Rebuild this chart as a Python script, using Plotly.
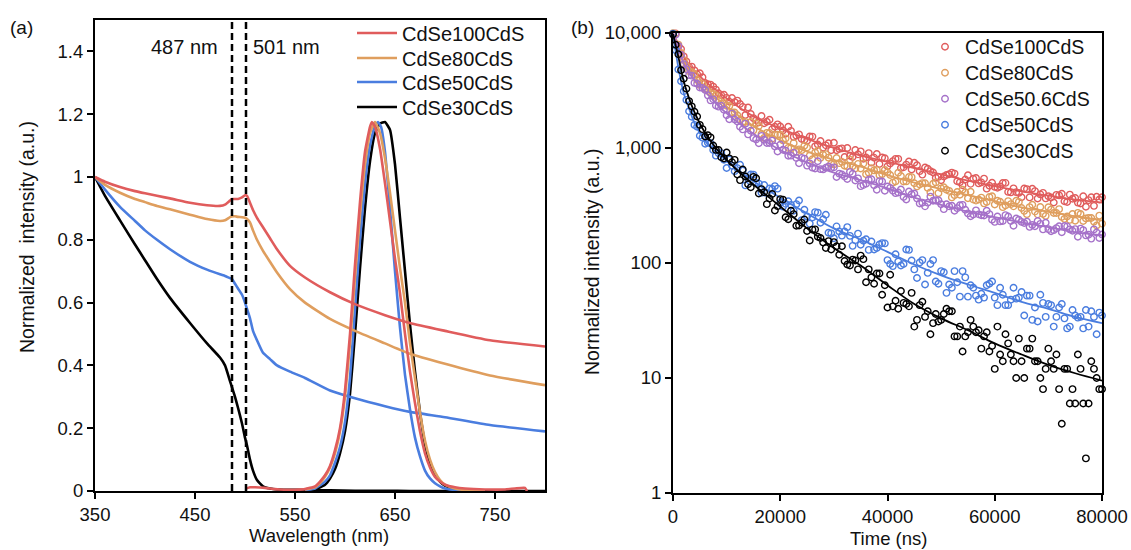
import plotly.graph_objects as go

# ---------------- Panel (a): absorption + PL ----------------
SAMPLES_A = ["CdSe100CdS", "CdSe80CdS", "CdSe50CdS", "CdSe30CdS"]

WL_ABS = [350, 360, 375, 390, 400, 412, 425, 445, 462, 475, 480, 485, 487, 490, 493,
          497, 500, 502, 505, 508, 512, 518, 525, 532, 545, 560, 585, 610, 640, 665,
          700, 745, 800]
ABS_RED = [1.0, 0.985, 0.968, 0.955, 0.948, 0.94, 0.932, 0.918, 0.91, 0.908, 0.912, 0.925,
           0.93, 0.93, 0.93, 0.935, 0.942, 0.94, 0.918, 0.895, 0.87, 0.84, 0.805, 0.77,
           0.717, 0.68, 0.633, 0.595, 0.56, 0.535, 0.51, 0.48, 0.46]
ABS_ORANGE = [1.0, 0.975, 0.95, 0.93, 0.92, 0.908, 0.897, 0.88, 0.866, 0.86, 0.862, 0.872,
              0.874, 0.875, 0.873, 0.872, 0.87, 0.866, 0.855, 0.83, 0.8, 0.765, 0.73, 0.696,
              0.643, 0.6, 0.548, 0.51, 0.47, 0.437, 0.405, 0.368, 0.337]
ABS_BLUE = [1.0, 0.96, 0.905, 0.86, 0.83, 0.80, 0.77, 0.73, 0.705, 0.69, 0.685, 0.678,
            0.675, 0.66, 0.645, 0.625, 0.6, 0.58, 0.55, 0.51, 0.48, 0.44, 0.42, 0.40,
            0.38, 0.36, 0.32, 0.295, 0.27, 0.252, 0.235, 0.21, 0.19]
ABS_BLACK = [1.0, 0.94, 0.862, 0.785, 0.735, 0.675, 0.615, 0.535, 0.47, 0.425, 0.40, 0.35,
             0.33, 0.30, 0.265, 0.215, 0.17, 0.145, 0.10, 0.065, 0.035, 0.015, 0.008, 0.005,
             0.004, 0.003, 0.002, 0.001, 0.001, 0.0, 0.0, 0.0, 0.0]

WL_PL_RED = [501, 505, 510, 520, 530, 540, 550, 560, 570, 575, 580, 585, 590, 595, 600,
             605, 610, 615, 620, 625, 627, 630, 635, 640, 645, 650, 655, 660, 665, 670,
             675, 680, 685, 690, 695, 700, 710, 720, 740, 760, 770, 780, 782]
PL_RED = [0.008, 0.012, 0.012, 0.01, 0.006, 0.004, 0.004, 0.006, 0.015, 0.03, 0.05, 0.08,
          0.13, 0.2, 0.32, 0.5, 0.72, 0.92, 1.08, 1.16, 1.175, 1.16, 1.09, 0.98, 0.86, 0.74,
          0.63, 0.5, 0.38, 0.28, 0.19, 0.12, 0.075, 0.045, 0.03, 0.02, 0.012, 0.008, 0.005,
          0.005, 0.008, 0.01, 0.0]
WL_PL_ORANGE = [560, 570, 575, 580, 585, 590, 595, 600, 605, 610, 615, 620, 625, 630, 635,
                640, 645, 650, 655, 660, 665, 670, 675, 680, 685, 690, 695, 700, 710, 720, 740]
PL_ORANGE = [0.005, 0.012, 0.025, 0.045, 0.075, 0.12, 0.19, 0.3, 0.47, 0.68, 0.88, 1.04,
             1.14, 1.175, 1.14, 1.06, 0.95, 0.83, 0.71, 0.6, 0.47, 0.36, 0.25, 0.16, 0.1,
             0.06, 0.035, 0.02, 0.008, 0.003, 0.001]
WL_PL_BLUE = [560, 570, 580, 585, 590, 595, 600, 605, 610, 615, 620, 625, 630, 633, 636,
              640, 645, 650, 655, 660, 665, 670, 675, 680, 685, 690, 695, 700, 710, 720]
PL_BLUE = [0.003, 0.008, 0.03, 0.05, 0.09, 0.14, 0.22, 0.36, 0.58, 0.8, 0.98, 1.1, 1.165,
           1.175, 1.16, 1.08, 0.9, 0.7, 0.52, 0.37, 0.26, 0.17, 0.11, 0.065, 0.04, 0.025,
           0.015, 0.008, 0.003, 0.0]
WL_PL_BLACK = [560, 570, 580, 585, 590, 595, 600, 605, 610, 615, 620, 625, 630, 635, 640,
               645, 650, 655, 660, 665, 670, 675, 680, 685, 690, 695, 700, 710, 720, 730]
PL_BLACK = [0.002, 0.005, 0.02, 0.04, 0.07, 0.12, 0.19, 0.31, 0.5, 0.71, 0.9, 1.05, 1.14,
            1.17, 1.175, 1.15, 1.04, 0.87, 0.7, 0.53, 0.38, 0.25, 0.15, 0.09, 0.055, 0.03,
            0.017, 0.006, 0.002, 0.0]

A_XTICKS = [350, 450, 550, 650, 750]
A_YTICKS = [0, 0.2, 0.4, 0.6, 0.8, 1.0, 1.2, 1.4]
A_YTICKTEXT = ["0", "0.2", "0.4", "0.6", "0.8", "1", "1.2", "1.4"]
MARKED_WL = [487, 501]

# ---------------- Panel (b): PL decay ----------------
SAMPLES_B = ["CdSe100CdS", "CdSe80CdS", "CdSe50.6CdS", "CdSe50CdS", "CdSe30CdS"]

TIME_NS = [0, 1000, 2000, 3000, 4000, 5000, 6000, 7000, 8000, 9000,
           10000, 11000, 12000, 13000, 14000, 15000, 16000, 17000, 18000, 19000,
           20000, 21000, 22000, 23000, 24000, 25000, 26000, 27000, 28000, 29000,
           30000, 31000, 32000, 33000, 34000, 35000, 36000, 37000, 38000, 39000,
           40000, 41000, 42000, 43000, 44000, 45000, 46000, 47000, 48000, 49000,
           50000, 51000, 52000, 53000, 54000, 55000, 56000, 57000, 58000, 59000,
           60000, 61000, 62000, 63000, 64000, 65000, 66000, 67000, 68000, 69000,
           70000, 71000, 72000, 73000, 74000, 75000, 76000, 77000, 78000, 79000,
           80000]
TIME_NS_HALF = [500, 1500, 2500, 3500, 4500, 5500, 6500, 7500, 8500, 9500,
                10500, 11500, 12500, 13500, 14500, 15500, 16500, 17500, 18500, 19500,
                20500, 21500, 22500, 23500, 24500, 25500, 26500, 27500, 28500, 29500,
                30500, 31500, 32500, 33500, 34500, 35500, 36500, 37500, 38500, 39500,
                40500, 41500, 42500, 43500, 44500, 45500, 46500, 47500, 48500, 49500,
                50500, 51500, 52500, 53500, 54500, 55500, 56500, 57500, 58500, 59500,
                60500, 61500, 62500, 63500, 64500, 65500, 66500, 67500, 68500, 69500,
                70500, 71500, 72500, 73500, 74500, 75500, 76500, 77500, 78500, 79500]

DEC_RED = [9810, 7650, 6260, 5070, 4730, 4470, 3680, 3560, 3220, 2880,
           2730, 2720, 2580, 2280, 2250, 1820, 1670, 1640, 1760, 1530,
           1540, 1330, 1410, 1280, 1200, 1155, 1256, 1073, 1008, 1100,
           1112, 982, 834, 855, 962, 935, 828, 746, 888, 827,
           694, 769, 804, 679, 764, 745, 629, 677, 629, 552,
           524, 583, 611, 514, 474, 579, 541, 492, 542, 470,
           459, 462, 497, 411, 413, 373, 439, 442, 364, 407,
           380, 336, 387, 344, 393, 368, 329, 308, 373, 377,
           373]
DEC_RED_HALF = [9900, 7250, 5650, 5100, 4380, 4120, 3580, 3420, 2990, 2900,
                2522, 2506, 2414, 1939, 1975, 1743, 1897, 1693, 1458, 1606,
                1421, 1529, 1250, 1313, 1176, 1260, 1033, 1150, 1055, 956,
                955, 993, 1000, 835, 881, 807, 903, 824, 725, 815,
                735, 805, 671, 717, 651, 707, 587, 660, 613, 561,
                566, 592, 599, 503, 532, 488, 548, 502, 443, 498,
                451, 496, 415, 446, 407, 445, 372, 422, 395, 365,
                371, 391, 400, 339, 362, 335, 380, 352, 314, 357]
DEC_ORANGE = [9950, 7930, 5810, 4650, 4380, 3540, 3290, 3010, 2870, 2430,
              2330, 2040, 1926, 1688, 1533, 1424, 1551, 1225, 1349, 1307,
              1302, 1213, 998, 926, 958, 1011, 799, 946, 872, 825,
              721, 739, 701, 792, 665, 664, 591, 668, 645, 593,
              616, 500, 609, 511, 560, 494, 481, 493, 411, 502,
              446, 434, 372, 414, 434, 366, 356, 357, 330, 375,
              323, 341, 317, 325, 348, 301, 266, 321, 265, 267,
              305, 272, 294, 242, 237, 233, 267, 244, 246, 212,
              220]
DEC_ORANGE_HALF = [9800, 6700, 5150, 4560, 3900, 3610, 3130, 2950, 2580, 2460,
                   2320, 2035, 1763, 1688, 1685, 1631, 1321, 1353, 1202, 1308,
                   1165, 1003, 1102, 972, 1045, 860, 912, 821, 885, 730,
                   818, 758, 694, 696, 727, 732, 609, 639, 580, 643,
                   582, 511, 571, 513, 558, 463, 495, 450, 489, 405,
                   456, 424, 389, 392, 410, 416, 349, 370, 339, 380,
                   348, 306, 345, 311, 340, 284, 306, 280, 307, 257,
                   291, 272, 251, 254, 267, 273, 232, 247, 229, 258]
DEC_PURPLE = [9690, 7725, 5366, 4302, 3682, 3362, 3196, 2596, 2342, 2334,
              1925, 1990, 1701, 1453, 1314, 1218, 1100, 1180, 1104, 1033,
              1068, 949, 859, 820, 820, 703, 675, 768, 652, 691,
              679, 599, 567, 620, 521, 466, 490, 535, 434, 512,
              462, 425, 410, 375, 419, 402, 329, 311, 378, 351,
              324, 324, 315, 300, 320, 270, 264, 265, 259, 266,
              228, 230, 261, 232, 244, 228, 229, 214, 232, 196,
              197, 193, 209, 210, 196, 197, 199, 174, 163, 184,
              177]
DEC_PURPLE_HALF = [9650, 6450, 4850, 4260, 3620, 3330, 2870, 2650, 2290, 2150,
                   1779, 1771, 1533, 1628, 1414, 1184, 1274, 1104, 1159, 931,
                   965, 856, 910, 737, 809, 735, 663, 655, 673, 672,
                   559, 589, 537, 598, 544, 476, 530, 474, 515, 425,
                   450, 405, 435, 357, 396, 365, 334, 335, 348, 351,
                   294, 311, 285, 318, 290, 255, 287, 260, 285, 238,
                   254, 232, 254, 211, 238, 223, 206, 209, 219, 224,
                   189, 201, 185, 208, 191, 169, 193, 176, 196, 165]
DEC_BLUE = [9870, 4810, 3110, 2085, 1588, 1278, 1090, 1100, 858, 902,
            671, 701, 668, 636, 544, 587, 490, 477, 445, 466,
            333, 327, 320, 325, 236, 254, 249, 274, 240, 183,
            164, 188, 188, 172, 158, 144, 161, 154, 135, 149,
            106, 94, 103, 98, 130, 88, 101, 65, 98, 69,
            85, 55, 61, 68, 85, 51, 61, 48, 50, 66,
            50, 61, 43, 48, 49, 56, 52, 32, 31, 45,
            44, 28, 41, 33, 28, 35, 34, 39, 38, 24,
            35]
DEC_BLUE_HALF = [7100, 3800, 2620, 1870, 1530, 1230, 1110, 960, 900, 790,
                 792, 629, 715, 473, 589, 497, 409, 405, 440, 443,
                 309, 344, 285, 350, 290, 220, 277, 224, 263, 181,
                 208, 173, 205, 141, 180, 156, 130, 131, 145, 148,
                 98, 119, 95, 131, 105, 74, 106, 82, 106, 66,
                 83, 65, 85, 51, 75, 64, 52, 54, 64, 69,
                 43, 53, 43, 61, 50, 35, 52, 41, 53, 34,
                 43, 34, 44, 27, 39, 33.5, 27, 28, 34, 37]
DEC_BLACK = [9730, 6525, 4000, 2558, 2065, 1588, 1259, 1238, 963, 830,
             914, 753, 589, 651, 484, 561, 402, 412, 364, 286,
             359, 250, 285, 211, 224, 190, 195, 169, 151, 155,
             152, 118, 104, 95, 105, 116, 68, 75, 81, 53,
             41, 42, 40, 45, 42, 28, 43, 34, 24, 36,
             32, 40, 38, 23, 17, 25, 28, 26, 23, 17,
             12, 16, 24, 16, 10, 14, 18, 22, 14, 8,
             18, 12, 8, 12, 6, 6, 12, 2, 14, 10,
             8]
DEC_BLACK_HALF = [7900, 4750, 3280, 2300, 1880, 1460, 1290, 1050, 960, 810,
                  812, 788, 526, 565, 456, 545, 439, 325, 398, 312,
                  356, 240, 266, 212, 239, 157, 196, 165, 135, 131,
                  140, 140, 97, 107, 88, 108, 88, 66, 81, 64,
                  79, 47, 57, 44, 55, 32, 46, 38, 30, 31,
                  36, 38, 23, 28, 23, 32, 25, 18, 25, 19,
                  28, 14, 20, 14, 22, 10, 18, 14, 10, 12,
                  14, 16, 4, 12, 8, 16, 6, 6, 12, 8]

FIT_T = [0, 1000, 2000, 3000, 4000, 6000, 8000, 10000, 13000, 16000, 20000, 25000,
         30000, 35000, 40000, 45000, 50000, 55000, 60000, 65000, 70000, 75000, 80000]
FIT_RED = [10000, 8000, 6300, 5300, 4700, 3800, 3200, 2700, 2150, 1780, 1480, 1200,
           1000, 860, 760, 670, 590, 520, 465, 420, 385, 355, 335]
FIT_ORANGE = [10000, 7600, 5700, 4800, 4200, 3350, 2750, 2300, 1800, 1460, 1170, 930,
              790, 690, 580, 500, 440, 390, 345, 305, 280, 255, 235]
FIT_PURPLE = [10000, 7400, 5400, 4500, 3900, 3100, 2450, 2000, 1550, 1240, 960, 750,
              610, 525, 445, 370, 320, 280, 250, 225, 205, 185, 175]
FIT_BLUE = [9800, 5000, 3000, 2200, 1650, 1150, 920, 780, 600, 480, 370, 270,
            200, 160, 125, 97, 78, 65, 55, 46, 40, 34, 30]
FIT_BLACK = [9800, 6200, 3800, 2700, 2050, 1350, 1000, 790, 580, 440, 310, 200,
             135, 95, 64, 44, 33, 26, 20, 16, 13, 11, 9.5]

B_XTICKS = [0, 20000, 40000, 60000, 80000]
B_XTICKTEXT = ["0", "20000", "40000", "60000", "80000"]
B_YTICKS = [1, 10, 100, 1000, 10000]
B_YTICKTEXT = ["1", "10", "100", "1,000", "10,000"]

# ---------------- styling ----------------
RED = "#E05C5C"
ORANGE = "#DF9E5E"
BLUE = "#4A7DDF"
BLACK = "#000000"
PURPLE = "#A571C9"
FONT = "Liberation Sans, Arial, sans-serif"
FONT_NARROW = "Liberation Sans Narrow, Arial Narrow, Liberation Sans, sans-serif"
TXT = "#111111"
W, H = 1131, 550

fig = go.Figure()

# one legend box per entry so the entry spacing can follow the reference
LEG_A_Y = [33, 58, 82, 107]
LEG_B_Y = [47, 73, 99, 125, 151]

abs_sets = [(3, ABS_BLACK, WL_PL_BLACK, PL_BLACK, BLACK),
            (2, ABS_BLUE, WL_PL_BLUE, PL_BLUE, BLUE),
            (1, ABS_ORANGE, WL_PL_ORANGE, PL_ORANGE, ORANGE),
            (0, ABS_RED, WL_PL_RED, PL_RED, RED)]
for idx, ab, wlp, pl, col in abs_sets:
    lg = "legend" if idx == 0 else f"legend{idx + 1}"
    fig.add_trace(go.Scatter(x=WL_ABS, y=ab, mode="lines", name=SAMPLES_A[idx],
                             line=dict(color=col, width=2.6, shape="spline", smoothing=0.5),
                             legend=lg, xaxis="x", yaxis="y"))
    fig.add_trace(go.Scatter(x=wlp, y=pl, mode="lines", name=SAMPLES_A[idx], showlegend=False,
                             line=dict(color=col, width=2.6, shape="spline", smoothing=0.4),
                             xaxis="x", yaxis="y"))

dec_sets = [(DEC_RED, DEC_RED_HALF, FIT_RED, RED),
            (DEC_ORANGE, DEC_ORANGE_HALF, FIT_ORANGE, ORANGE),
            (DEC_PURPLE, DEC_PURPLE_HALF, FIT_PURPLE, PURPLE),
            (DEC_BLUE, DEC_BLUE_HALF, FIT_BLUE, BLUE),
            (DEC_BLACK, DEC_BLACK_HALF, FIT_BLACK, BLACK)]
for i, (dec, dec_h, fit, col) in enumerate(dec_sets):
    fig.add_trace(go.Scatter(x=TIME_NS + TIME_NS_HALF, y=dec + dec_h, mode="markers",
                             name=SAMPLES_B[i],
                             marker=dict(symbol="circle-open", size=6.5, color=col,
                                         line=dict(color=col, width=1.4)),
                             legend=f"legend{i + 5}", cliponaxis=False,
                             xaxis="x2", yaxis="y2"))
    fig.add_trace(go.Scatter(x=FIT_T, y=fit, mode="lines", showlegend=False, name=SAMPLES_B[i],
                             line=dict(color=col, width=1.8, shape="spline"),
                             xaxis="x2", yaxis="y2"))

axis_common = dict(showline=True, mirror=True, linecolor="black", linewidth=2,
                   ticks="outside", ticklen=6, tickwidth=2, tickcolor="black",
                   showgrid=False, zeroline=False, automargin=False,
                   tickfont=dict(family=FONT, size=18.5, color=TXT))

layout = dict(
    width=W, height=H, margin=dict(l=0, r=0, t=0, b=0, autoexpand=False),
    paper_bgcolor="white", plot_bgcolor="white",
    font=dict(family=FONT, color=TXT),
    xaxis=dict(domain=[95 / W, 545 / W], range=[350, 800], tickvals=A_XTICKS, **axis_common),
    yaxis=dict(domain=[1 - 491 / H, 1 - 20 / H], range=[0, 1.5], tickvals=A_YTICKS,
               ticktext=A_YTICKTEXT, **axis_common),
    xaxis2=dict(domain=[673 / W, 1102 / W], range=[0, 80000], tickvals=B_XTICKS,
                ticktext=B_XTICKTEXT, anchor="y2", **axis_common),
    yaxis2=dict(domain=[1 - 493 / H, 1 - 33 / H], type="log", range=[0, 4],
                tickvals=B_YTICKS, ticktext=B_YTICKTEXT, anchor="x2", **axis_common),
    showlegend=True,
)
for k, yy in enumerate(LEG_A_Y):
    key = "legend" if k == 0 else f"legend{k + 1}"
    layout[key] = dict(x=352 / W, y=1 - yy / H, xanchor="left", yanchor="middle",
                       bgcolor="rgba(0,0,0,0)", font=dict(family=FONT, size=20, color=TXT),
                       itemwidth=40)
for k, yy in enumerate(LEG_B_Y):
    layout[f"legend{k + 5}"] = dict(x=925 / W, y=1 - yy / H, xanchor="left", yanchor="middle",
                                   bgcolor="rgba(0,0,0,0)",
                                   font=dict(family=FONT, size=19.5, color=TXT),
                                   itemwidth=30)
fig.update_layout(**layout)

for wl in MARKED_WL:
    fig.add_shape(type="line", xref="x", yref="y", x0=wl, x1=wl, y0=0, y1=1.5,
                  line=dict(color="black", width=2.5, dash="7px,4px"))

ann = [
    dict(text="487 nm", x=220, y=47, xanchor="right", size=20),
    dict(text="501 nm", x=251, y=47, xanchor="left", size=20),
    dict(text="(a)", x=8, y=28, xanchor="left", size=19),
    dict(text="(b)", x=569, y=28, xanchor="left", size=19),
    dict(text="Wavelength (nm)", x=319, y=535, xanchor="center", size=18.5),
    dict(text="Time (ns)", x=888, y=538, xanchor="center", size=18.5),
]
for a in ann:
    fig.add_annotation(text=a["text"], xref="paper", yref="paper", x=a["x"] / W,
                       y=1 - a["y"] / H, xanchor=a["xanchor"], yanchor="middle",
                       showarrow=False, font=dict(family=FONT, size=a["size"], color=TXT))
for txt, xx, yy in [("Normalized  intensity (a.u.)", 27, 237),
                    ("Normalized intensity (a.u.)", 592, 262)]:
    fig.add_annotation(text=txt, xref="paper", yref="paper", x=xx / W, y=1 - yy / H,
                       xanchor="center", yanchor="middle", textangle=-90, showarrow=False,
                       font=dict(family=FONT_NARROW, size=19.5, color=TXT))

fig.write_html("out.html", config={"displayModeBar": False},
               post_script="document.body.style.margin='0px';")
